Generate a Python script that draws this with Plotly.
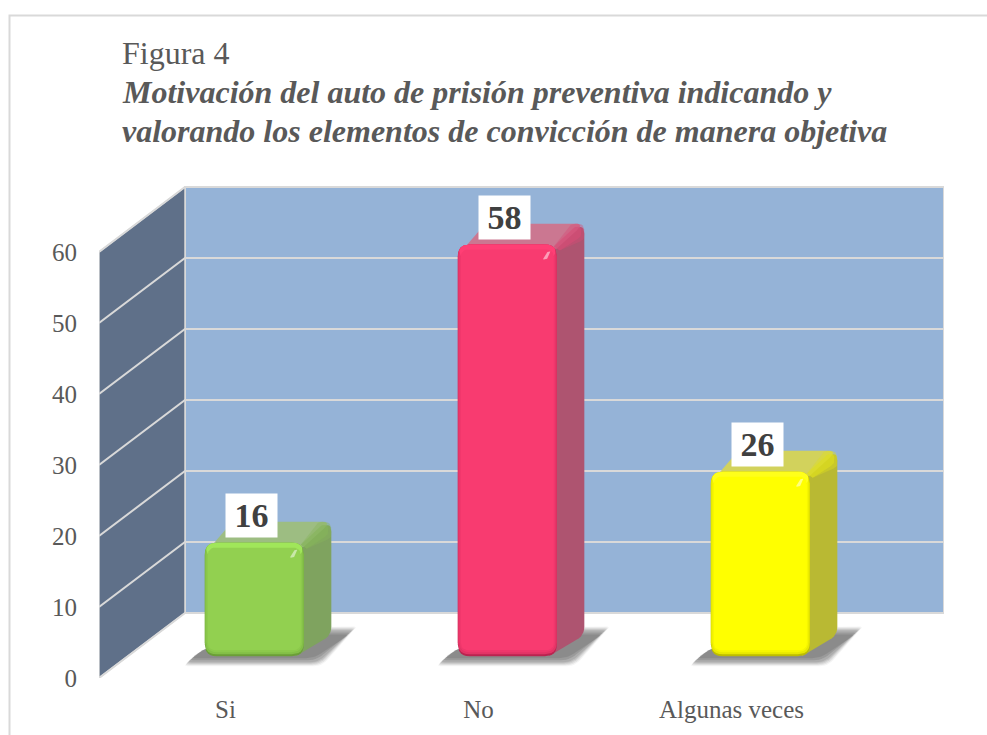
"""Figura 4: faux-3D column chart drawn on ordinary cartesian axes."""

import plotly.graph_objects as go

CATEGORIES = ["Si", "No", "Algunas veces"]
VALUES = [16, 58, 26]
Y_TICKS = [0, 10, 20, 30, 40, 50, 60]

TITLE_HEAD = "Figura 4"
TITLE_LINES = [
    "Motivación del auto de prisión preventiva indicando y",
    "valorando los elementos de convicción de manera objetiva",
]

# Palette per bar: front, top rim, dark rim, edge, side, top face, side glint
BAR_COLORS = [
    ("#92D050", "#A0E65A", "#6B9E38", "#83BF47", "#7FA35F", "#9DBD82", "#86B45A"),
    ("#F83B70", "#FF3F75", "#B92450", "#E23466", "#AE5470", "#CB7791", "#D64C76"),
    ("#FFFF00", "#FFFF1A", "#BDBD00", "#E8E800", "#B9B933", "#D2D25C", "#DEDE1E"),
]
WALL_BACK = "#95B3D7"
WALL_SIDE = "#5F7089"
GRID = "#D9D9D9"
TEXT = "#595959"
LABEL = "#404040"

WIDTH, HEIGHT = 987, 735
# Plot box in pixels, the front plane ends where the side wall starts
LEFT, RIGHT, TOP, BOTTOM = 99, 944, 186, 678
PX_X = 253.0  # pixels per category
PX_Y = 7.1  # pixels per value unit

X_MIN = -0.5
X_MAX = X_MIN + (RIGHT - LEFT) / PX_X
Y_MAX = (BOTTOM - TOP) / PX_Y

# Depth of the floor, expressed in axis units
DEPTH_X = 86 / PX_X
DEPTH_Y = 65 / PX_Y
BAR_NEAR = 0.335  # fraction of the floor depth in front of the bar
BAR_DEEP = 0.32  # fraction of the floor depth the bar takes
BAR_WIDTH = 99 / PX_X


def rounded(points, radii, steps=6):
    """Closed polygon through points (axis units), corners rounded by radii (px)."""
    xs, ys = [], []
    n = len(points)
    for i, (x, y) in enumerate(points):
        r = radii[i] if isinstance(radii, (list, tuple)) else radii
        if r == 0:
            xs.append(x)
            ys.append(y)
            continue
        px, py = points[i - 1]
        nx, ny = points[(i + 1) % n]
        d0 = (((px - x) * PX_X) ** 2 + ((py - y) * PX_Y) ** 2) ** 0.5
        d1 = (((nx - x) * PX_X) ** 2 + ((ny - y) * PX_Y) ** 2) ** 0.5
        t0, t1 = min(r / d0, 0.5), min(r / d1, 0.5)
        ax, ay = x + (px - x) * t0, y + (py - y) * t0
        bx, by = x + (nx - x) * t1, y + (ny - y) * t1
        for s in range(steps + 1):
            t = s / steps
            xs.append((1 - t) ** 2 * ax + 2 * t * (1 - t) * x + t**2 * bx)
            ys.append((1 - t) ** 2 * ay + 2 * t * (1 - t) * y + t**2 * by)
    xs.append(xs[0])
    ys.append(ys[0])
    return xs, ys


def patch(fig, xs, ys, color, opacity=1.0):
    fig.add_trace(
        go.Scatter(
            x=xs,
            y=ys,
            mode="lines",
            fill="toself",
            fillcolor=color,
            line=dict(width=0, color=color),
            opacity=opacity,
            hoverinfo="skip",
            showlegend=False,
        )
    )


def box(x0, x1, y0, y1):
    return [(x0, y0), (x1, y0), (x1, y1), (x0, y1)]


def add_shadow(fig, x0, x1, y0, dx, dy):
    # soft floor shadow: same shape shrunk a little each pass
    passes = [(4.0, 0.06), (3.0, 0.1), (2.0, 0.12), (1.0, 0.14), (0.0, 0.16), (-2.0, 0.2), (-4.0, 0.2)]
    for grow, alpha in passes:
        gx, gy = grow / PX_X, grow / PX_Y
        pts = [
            (x0 - (18 / PX_X) - gx, y0 - (6 / PX_Y) - gy),
            (x1 + (14 / PX_X) + gx, y0 - (6 / PX_Y) - gy),
            (x1 + dx + (22 / PX_X) + gx, y0 + dy + (5 / PX_Y) + gy),
            (x1 + dx - (10 / PX_X), y0 + dy + (5 / PX_Y) + gy),
            (x0, y0 + (8 / PX_Y)),
        ]
        xs, ys = rounded(pts, [5, 8, 4, 3, 8])
        patch(fig, xs, ys, "#505050", alpha)


def add_bar(fig, i, value, colors):
    front, rim, dark, edge, side, top, glint = colors
    xc = i + BAR_NEAR * DEPTH_X
    x0, x1 = xc - BAR_WIDTH / 2, xc + BAR_WIDTH / 2
    y0 = BAR_NEAR * DEPTH_Y
    y1 = y0 + value
    dx, dy = BAR_DEEP * DEPTH_X, BAR_DEEP * DEPTH_Y
    ux, uy = 1 / PX_X, 1 / PX_Y

    add_shadow(fig, x0, x1, y0, dx, dy)

    # side and top faces
    xs, ys = rounded([(x1 - 8 * ux, y0), (x1 + dx, y0 + dy), (x1 + dx, y1 + dy), (x1 - 8 * ux, y1)], [0, 9, 10, 0])
    patch(fig, xs, ys, side)
    xs, ys = rounded(
        [(x0 + 6 * ux, y1 - 4 * uy), (x1, y1 - 4 * uy), (x1 + dx, y1 + dy), (x0 + dx, y1 + dy)],
        [0, 0, 10, 4],
    )
    patch(fig, xs, ys, top)
    # brighter bevel between top and side, wide and faint then narrow
    for inset, alpha in [(0, 0.4), (3, 0.6)]:
        xs, ys = rounded(
            [
                (x1 - 3 * ux, y1 - 2 * uy),
                (x1 + dx - (13 - inset) * ux, y1 + dy - inset * uy),
                (x1 + dx - inset * ux, y1 + dy - inset * uy),
                (x1 + dx - inset * ux, y1 + dy - (16 - inset) * uy),
                (x1 + 3 * ux, y1 - 6 * uy),
            ],
            [0, 4, 8, 4, 0],
        )
        patch(fig, xs, ys, glint, alpha)

    # front face: dark base, then softer passes working inward
    xs, ys = rounded(box(x0, x1, y0, y1), 12)
    patch(fig, xs, ys, dark)
    xs, ys = rounded(box(x0, x1, y0 + 2 * uy, y1), 12)
    patch(fig, xs, ys, edge)
    xs, ys = rounded(box(x0 + 1.5 * ux, x1 - 1.5 * ux, y0 + 4 * uy, y1), 11)
    patch(fig, xs, ys, front, 0.6)
    xs, ys = rounded(box(x0 + 1.5 * ux, x1 - 1.5 * ux, y1 - 14 * uy, y1), 11)
    patch(fig, xs, ys, rim)
    xs, ys = rounded(box(x0 + 3 * ux, x1 - 3 * ux, y0 + 6 * uy, y1 - 5 * uy), 8)
    patch(fig, xs, ys, front)
    # small specular streak at the top right corner
    xs, ys = rounded(
        [
            (x1 - 14 * ux, y1 - 15 * uy),
            (x1 - 10 * ux, y1 - 15 * uy),
            (x1 - 6 * ux, y1 - 7 * uy),
            (x1 - 9 * ux, y1 - 7 * uy),
        ],
        1,
    )
    patch(fig, xs, ys, "#FFFFFF", 0.5)


fig = go.Figure()

# walls
xs, ys = rounded(box(X_MIN + DEPTH_X, X_MAX, DEPTH_Y, Y_MAX), 0)
fig.add_trace(
    go.Scatter(
        x=xs, y=ys, mode="lines", fill="toself", fillcolor=WALL_BACK,
        line=dict(width=2, color=GRID), hoverinfo="skip", showlegend=False,
    )
)
top_tick = max(Y_TICKS)
xs = [X_MIN, X_MIN + DEPTH_X, X_MIN + DEPTH_X, X_MIN, X_MIN]
ys = [0, DEPTH_Y, top_tick + DEPTH_Y, top_tick, 0]
fig.add_trace(
    go.Scatter(
        x=xs, y=ys, mode="lines", fill="toself", fillcolor=WALL_SIDE,
        line=dict(width=1.5, color=GRID), hoverinfo="skip", showlegend=False,
    )
)

# gridlines run along the side wall and then across the back wall
for tick in Y_TICKS:
    fig.add_trace(
        go.Scatter(
            x=[X_MIN, X_MIN + DEPTH_X, X_MAX],
            y=[tick, tick + DEPTH_Y, tick + DEPTH_Y],
            mode="lines",
            line=dict(width=2, color=GRID),
            hoverinfo="skip",
            showlegend=False,
        )
    )

for i, value in enumerate(VALUES):
    add_bar(fig, i, value, BAR_COLORS[i])

for i, value in enumerate(VALUES):
    fig.add_annotation(
        x=i + BAR_NEAR * DEPTH_X,
        y=BAR_NEAR * DEPTH_Y + value,
        xshift=-3,
        yshift=27,
        text=f"<b>{value}</b>",
        showarrow=False,
        width=49,
        height=41,
        bgcolor="#FFFFFF",
        font=dict(family="Liberation Serif", size=34, color=LABEL),
    )

# title lines are placed one by one, the line gap is tighter than plotly's own
title_rows = [(TITLE_HEAD, 53), (f"<b><i>{TITLE_LINES[0]}</i></b>", 92), (f"<b><i>{TITLE_LINES[1]}</i></b>", 131)]
for text, row_y in title_rows:
    fig.add_annotation(
        xref="paper",
        yref="paper",
        x=120 / WIDTH,
        y=1 - row_y / HEIGHT,
        xanchor="left",
        yanchor="middle",
        text=text,
        showarrow=False,
        font=dict(family="Liberation Serif", size=32, color=TEXT),
    )

fig.update_layout(
    width=WIDTH,
    height=HEIGHT,
    autosize=False,
    margin=dict(l=0, r=0, t=0, b=0),
    paper_bgcolor="#FFFFFF",
    plot_bgcolor="#FFFFFF",
    showlegend=False,
    font=dict(family="Liberation Serif", color=TEXT),
    xaxis=dict(
        domain=[LEFT / WIDTH, RIGHT / WIDTH],
        range=[X_MIN, X_MAX],
        tickvals=list(range(len(CATEGORIES))),
        ticktext=CATEGORIES,
        ticks="outside",
        ticklen=9,
        tickcolor="rgba(0,0,0,0)",
        tickfont=dict(family="Liberation Serif", size=25, color=TEXT),
        showgrid=False,
        zeroline=False,
        showline=False,
        automargin=False,
    ),
    yaxis=dict(
        domain=[1 - BOTTOM / HEIGHT, 1 - TOP / HEIGHT],
        range=[0, Y_MAX],
        tickvals=Y_TICKS,
        ticks="outside",
        ticklen=16,
        tickcolor="rgba(0,0,0,0)",
        tickfont=dict(family="Liberation Serif", size=25, color=TEXT),
        showgrid=False,
        zeroline=False,
        showline=False,
        automargin=False,
    ),
    shapes=[
        dict(
            type="path",
            xref="paper",
            yref="paper",
            path=f"M {9.5 / WIDTH} 0 L {9.5 / WIDTH} {1 - 15.5 / HEIGHT} L 1 {1 - 15.5 / HEIGHT}",
            line=dict(color=GRID, width=2),
        )
    ],
)

fig.write_html(
    "out.html",
    config={"displayModeBar": False},
    post_script="document.body.style.margin='0';",
)
